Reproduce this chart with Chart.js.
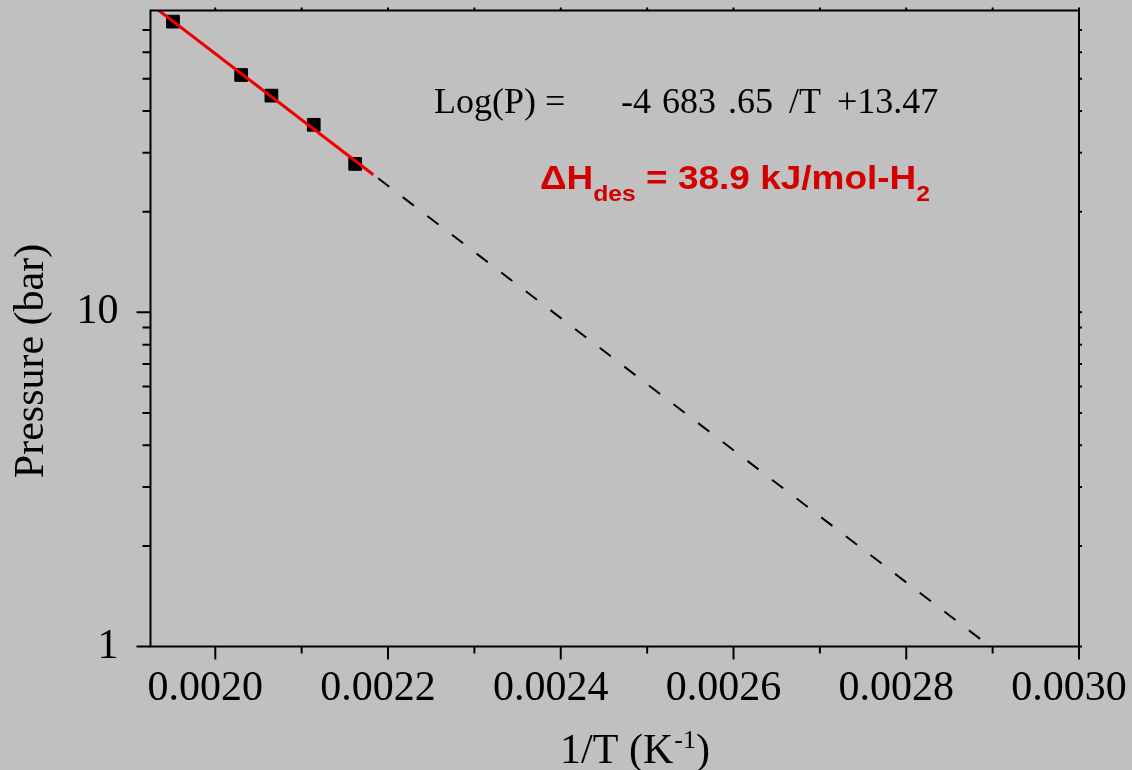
<!DOCTYPE html>
<html>
<head>
<meta charset="utf-8">
<script src="https://cdn.jsdelivr.net/npm/chart.js@4/dist/chart.umd.min.js"></script>
<style>
  html, body { margin: 0; padding: 0; background: #c0c0c0; }
  #wrap { width: 1132px; height: 770px; }
</style>
</head>
<body>
<div id="wrap"><canvas id="vantHoff" width="1132" height="770"></canvas></div>
<script>
// measured points (1/T, P)
const invT = [0.001951, 0.002030, 0.002065, 0.002114, 0.002162];
const pressure = [74.1, 51.3, 44.5, 36.4, 27.8];

// fitted line (red) and its extrapolation (dashed)
const fitX = [0.001932, 0.002183];
const fitY = [81.0, 25.8];
const extX = [0.001932, 0.002897];
const extY = [81.0, 1.0];

// axes
const xMin = 0.001925, xMax = 0.0030, xStep = 0.0002;
const yMin = 1, yMax = 80;
const yLabels = [1, 10];
const yMinorTicks = [2, 3, 4, 5, 6, 7, 8, 9, 20, 30, 40, 50, 60, 70];

const serif = "'Liberation Serif', 'Times New Roman', serif";
const sans = "'Liberation Sans', Arial, sans-serif";

const toPts = (xs, ys) => xs.map((x, i) => ({ x: x, y: ys[i] }));

// 축 테두리, 눈금, 축 제목, 식 텍스트
const decorations = {
    id: 'decorations',
    afterDraw(chart) {
        const ctx = chart.ctx;
        const a = chart.chartArea;
        const xs = chart.scales.x;
        const ys = chart.scales.y;
        ctx.save();
        ctx.strokeStyle = '#000';
        ctx.lineWidth = 2;
        ctx.strokeRect(a.left, a.top, a.right - a.left, a.bottom - a.top);

        // x ticks: bottom (outward) + small ones on top
        for (let k = 19; k <= 30; k++) {
            const v = k / 10000;
            if (v < xMin || v > xMax + 1e-9) continue;
            const px = xs.getPixelForValue(v);
            const major = k % 2 === 0;
            ctx.beginPath();
            ctx.moveTo(px, a.bottom);
            ctx.lineTo(px, a.bottom + (major ? 13 : 7));
            ctx.moveTo(px, a.top);
            ctx.lineTo(px, a.top - 3);
            ctx.stroke();
        }
        // y ticks: left (outward) + small ones on right
        yLabels.concat(yMinorTicks).forEach(v => {
            const py = ys.getPixelForValue(v);
            const major = yLabels.includes(v);
            ctx.beginPath();
            ctx.moveTo(a.left, py);
            ctx.lineTo(a.left - (major ? 14 : 8), py);
            ctx.moveTo(a.right, py);
            ctx.lineTo(a.right + 3, py);
            ctx.stroke();
        });

        ctx.fillStyle = '#000';
        ctx.textBaseline = 'alphabetic';

        // y title
        ctx.save();
        ctx.translate(43, 361);
        ctx.rotate(-Math.PI / 2);
        ctx.font = '42px ' + serif;
        ctx.textAlign = 'center';
        ctx.fillText('Pressure (bar)', 0, 0);
        ctx.restore();

        // x title with superscript
        ctx.textAlign = 'left';
        const big = '42px ' + serif, small = '26px ' + serif;
        ctx.font = big;
        const w1 = ctx.measureText('1/T (K').width;
        const w3 = ctx.measureText(')').width;
        ctx.font = small;
        const w2 = ctx.measureText('-1').width;
        let tx = 635 - (w1 + w2 + w3 + 1) / 2;
        ctx.font = big;
        ctx.fillText('1/T (K', tx, 763);
        tx += w1 + 1;
        ctx.font = small;
        ctx.fillText('-1', tx, 748);
        tx += w2;
        ctx.font = big;
        ctx.fillText(')', tx, 763);

        // fitted equation
        ctx.font = '36px ' + serif;
        ctx.fillText('Log(P) =', 434, 113);
        ctx.fillText('-4', 621, 113);
        ctx.fillText('683', 662, 113);
        ctx.fillText('.65', 728, 113);
        ctx.fillText('/T', 789, 113);
        ctx.fillText('+13.47', 837, 113);

        // desorption enthalpy
        const parts = [
            ['\u0394H', 'bold 33px ' + sans, 189],
            ['des', 'bold 22px ' + sans, 200.5],
            [' = 38.9 kJ/mol-H', 'bold 33px ' + sans, 189],
            ['2', 'bold 22px ' + sans, 200.5]
        ];
        let total = 0;
        parts.forEach(p => { ctx.font = p[1]; total += ctx.measureText(p[0]).width; });
        ctx.save();
        ctx.translate(540, 0);
        ctx.scale(390 / total, 1);
        ctx.fillStyle = '#d40000';
        let cx = 0;
        parts.forEach(p => {
            ctx.font = p[1];
            ctx.fillText(p[0], cx, p[2]);
            cx += ctx.measureText(p[0]).width;
        });
        ctx.restore();
        ctx.restore();
    }
};

new Chart(document.getElementById('vantHoff').getContext('2d'), {
    type: 'scatter',
    data: {
        datasets: [
            {
                label: 'fit',
                data: toPts(fitX, fitY),
                showLine: true,
                borderColor: '#f00000',
                borderWidth: 3,
                pointRadius: 0,
                order: 0
            },
            {
                label: 'data',
                data: toPts(invT, pressure),
                pointStyle: 'rect',
                pointRadius: 9,
                backgroundColor: '#000',
                borderColor: '#000',
                borderWidth: 1,
                order: 1
            },
            {
                label: 'extrapolation',
                data: toPts(extX, extY),
                showLine: true,
                borderColor: '#000',
                borderWidth: 2,
                borderDash: [14, 17],
                pointRadius: 0,
                order: 2
            }
        ]
    },
    options: {
        responsive: false,
        animation: false,
        layout: { padding: { top: 10.5, right: 53, left: 0, bottom: 0 } },
        plugins: {
            legend: { display: false },
            tooltip: { enabled: false }
        },
        scales: {
            x: {
                type: 'linear',
                min: xMin,
                max: xMax,
                grid: { display: false, drawTicks: false },
                border: { display: false },
                ticks: {
                    stepSize: xStep,
                    includeBounds: false,
                    autoSkip: false,
                    maxRotation: 0,
                    minRotation: 0,
                    padding: 17,
                    labelOffset: -10,
                    color: '#000',
                    font: { family: serif, size: 42 },
                    callback: v => v.toFixed(4)
                },
                afterFit(scale) {
                    scale.height = 123.5;
                    scale.paddingLeft = 0;
                    scale.paddingRight = 0;
                }
            },
            y: {
                type: 'logarithmic',
                min: yMin,
                max: yMax,
                grid: { display: false, drawTicks: false },
                border: { display: false },
                ticks: {
                    autoSkip: false,
                    padding: 32,
                    color: '#000',
                    font: { family: serif, size: 42 },
                    callback: v => yLabels.includes(v) ? String(v) : ''
                },
                afterFit(scale) {
                    scale.width = 150.5;
                    scale.paddingTop = 0;
                    scale.paddingBottom = 0;
                }
            }
        }
    },
    plugins: [decorations]
});
</script>
</body>
</html>
